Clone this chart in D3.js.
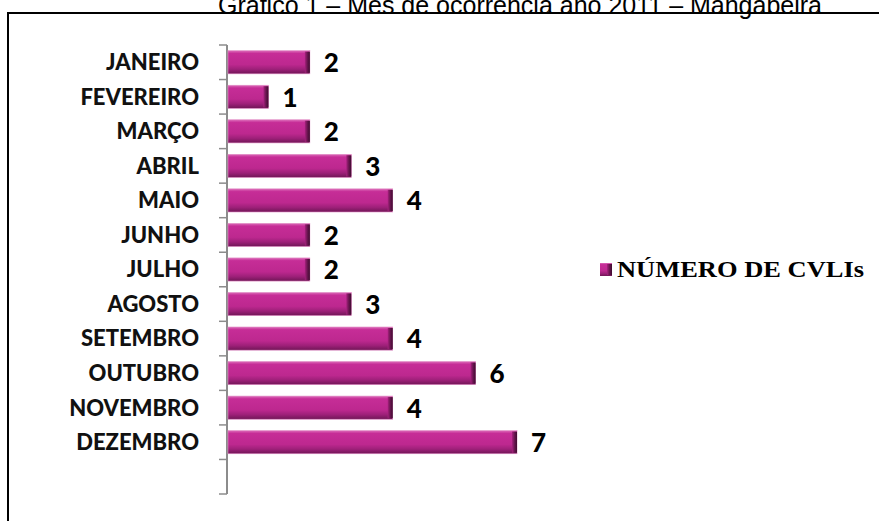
<!DOCTYPE html>
<html><head><meta charset="utf-8">
<script src="https://cdn.jsdelivr.net/npm/d3@7"></script>
<style>body{margin:0;background:#fff}svg{display:block}</style>
</head><body>
<svg id="c" width="879" height="521"></svg>
<script>
const months = ["JANEIRO","FEVEREIRO","MARÇO","ABRIL","MAIO","JUNHO","JULHO","AGOSTO","SETEMBRO","OUTUBRO","NOVEMBRO","DEZEMBRO"];
const values = [2,1,2,3,4,2,2,3,4,6,4,7];
const seriesName = "NÚMERO DE CVLIs";
const title = "Gráfico 1 – Mês de ocorrência ano 2011 – Mangabeira";

const svg = d3.select("#c");
const defs = svg.append("defs");
const g1 = defs.append("linearGradient").attr("id","barG").attr("x1",0).attr("y1",0).attr("x2",0).attr("y2",1);
[[0,"#dc6cb9"],[0.12,"#c62d97"],[0.6,"#bd288f"],[0.8,"#9e2079"],[1,"#701656"]].forEach(s=>g1.append("stop").attr("offset",s[0]).attr("stop-color",s[1]));
const g2 = defs.append("linearGradient").attr("id","capG").attr("x1",0).attr("y1",0).attr("x2",1).attr("y2",0);
[[0,"#a8227f"],[0.5,"#6a1550"],[1,"#3e0c2f"]].forEach(s=>g2.append("stop").attr("offset",s[0]).attr("stop-color",s[1]));

// title (partially clipped at top like reference)
svg.append("text").attr("x",520).attr("y",14).attr("text-anchor","middle")
  .attr("font-family","Liberation Sans, Arial, sans-serif").attr("font-size",25).attr("fill","#000").text(title);

// frame
svg.append("rect").attr("x",8).attr("y",13).attr("width",900).attr("height",600)
  .attr("fill","none").attr("stroke","#000").attr("stroke-width",2);

const x0 = 227;
const x = d3.scaleLinear().domain([0,7]).range([x0, 517]);
const bandDomain = months.concat([""]);
const y = d3.scaleBand().domain(bandDomain).range([45,494]).paddingInner(0.33).paddingOuter(0.165);

// axis line and ticks at band boundaries
const axisG = svg.append("g");
axisG.append("line").attr("x1",x0).attr("x2",x0).attr("y1",45).attr("y2",494).attr("stroke","#8c8c8c").attr("stroke-width",2);
const step = y.step();
d3.range(bandDomain.length+1).forEach(i=>{
  const yy = 45 + i*step;
  axisG.append("line").attr("x1",x0-8).attr("x2",x0).attr("y1",yy).attr("y2",yy).attr("stroke","#8c8c8c").attr("stroke-width",1.5);
});

// category labels
svg.append("g").selectAll("text").data(months).join("text")
  .attr("x",199).attr("y",d=>y(d)+y.bandwidth()/2).attr("dy","0.36em")
  .attr("text-anchor","end").attr("font-family","Lato, 'Open Sans', sans-serif").attr("font-weight","900")
  .attr("font-size",22).attr("fill","#111").text(d=>d);

const data = months.map((m,i)=>({m, v: values[i]}));
const bars = svg.append("g").selectAll("g").data(data).join("g");
bars.append("rect").attr("x",x0+1).attr("y",d=>y(d.m)).attr("width",d=>x(d.v)-x0-1).attr("height",y.bandwidth())
  .attr("fill","url(#barG)").attr("stroke","#e08ac4").attr("stroke-width",0.6);
bars.append("rect").attr("x",d=>x(d.v)-5).attr("y",d=>y(d.m)+1).attr("width",5).attr("height",y.bandwidth()-2)
  .attr("fill","url(#capG)");
bars.append("text").attr("x",d=>x(d.v)+14).attr("y",d=>y(d.m)+y.bandwidth()/2).attr("dy","0.38em")
  .attr("font-family","Lato, 'Open Sans', sans-serif").attr("font-weight","900").attr("font-size",26)
  .attr("fill","#000").text(d=>d.v);

// legend
const lg = svg.append("g");
lg.append("rect").attr("x",600).attr("y",263).attr("width",12).attr("height",13).attr("fill","url(#barG)");
lg.append("rect").attr("x",607).attr("y",264).attr("width",5).attr("height",11).attr("fill","url(#capG)");
lg.append("text").attr("x",617).attr("y",277).attr("font-family","Liberation Serif, 'Times New Roman', serif")
  .attr("font-weight","bold").attr("font-size",24).attr("textLength",247).attr("lengthAdjust","spacingAndGlyphs")
  .attr("fill","#000").text(seriesName);
</script>
</body></html>
